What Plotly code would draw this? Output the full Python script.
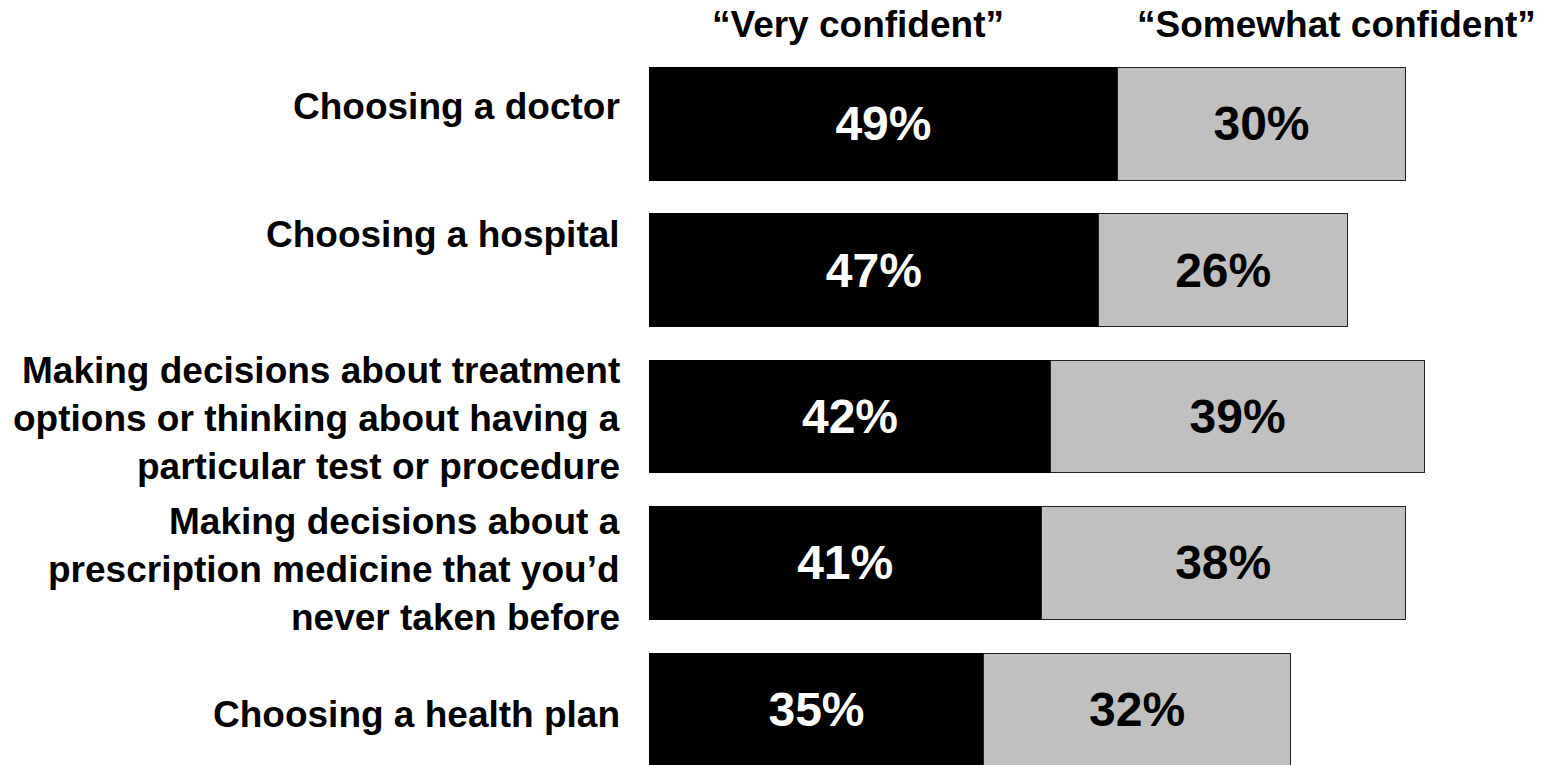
import plotly.graph_objects as go

# Data
categories = [
    'Choosing a doctor',
    'Choosing a hospital',
    'Making decisions about treatment<br>options or thinking about having a<br>particular test or procedure',
    'Making decisions about a<br>prescription medicine that you’d<br>never taken before',
    'Choosing a health plan',
]
very_confident = [49, 47, 42, 41, 35]
somewhat_confident = [30, 26, 39, 38, 32]
series_names = ['“Very confident”', '“Somewhat confident”']

# Styling
FONT = 'Liberation Sans, Arial, sans-serif'
VALUE_SIZE = 48
LABEL_SIZE = 37
LINE_PITCH = 0.328                                  # spacing of label lines, category units
label_offsets = [-0.119, -0.242, 0.014, 0.044, 0.031]  # label centre vs bar centre, category units

ypos = list(range(len(categories)))

fig = go.Figure()

fig.add_trace(go.Bar(
    y=ypos, x=very_confident, orientation='h', width=0.771,
    name=series_names[0],
    marker=dict(color='black', line=dict(color='black', width=1)),
    text=[f'<b>{v}%</b>' for v in very_confident],
    textposition='inside', insidetextanchor='middle',
    textfont=dict(color='white', family=FONT, size=VALUE_SIZE),
))

fig.add_trace(go.Bar(
    y=ypos, x=somewhat_confident, orientation='h', width=0.771,
    name=series_names[1],
    marker=dict(color='#c0c0c0', line=dict(color='#222222', width=1)),
    text=[f'<b>{v}%</b>' for v in somewhat_confident],
    textposition='inside', insidetextanchor='middle',
    textfont=dict(color='black', family=FONT, size=VALUE_SIZE),
))

# Category labels on the left, one annotation per text line
for i, label in enumerate(categories):
    lines = label.split('<br>')
    mid = (len(lines) - 1) / 2
    for j, line in enumerate(lines):
        fig.add_annotation(
            x=0, xref='paper', xanchor='right', xshift=-27,
            y=ypos[i] + label_offsets[i] + (j - mid) * LINE_PITCH,
            yref='y', yanchor='middle',
            text=f'<b>{line}</b>', align='right', showarrow=False,
            font=dict(family=FONT, size=LABEL_SIZE, color='black'),
        )

# Column headers
header_x = [21.8, 71.8]
for name, hx in zip(series_names, header_x):
    fig.add_annotation(
        x=hx, xref='x', xanchor='center',
        y=1.035, yref='paper', yanchor='middle',
        text=f'<b>{name}</b>', showarrow=False,
        font=dict(family=FONT, size=37, color='black'),
    )

fig.update_layout(
    barmode='stack',
    width=1542, height=765,
    margin=dict(l=649, r=3, t=50, b=0),
    plot_bgcolor='white', paper_bgcolor='white',
    showlegend=False,
    uniformtext=dict(mode=False),
    xaxis=dict(range=[0, 93], visible=False, fixedrange=True),
    yaxis=dict(range=[4.379, -0.502], visible=False, fixedrange=True),
    font=dict(family=FONT),
)

fig.write_html('out.html', config={'displayModeBar': False},
               post_script="document.body.style.margin = '0';")
